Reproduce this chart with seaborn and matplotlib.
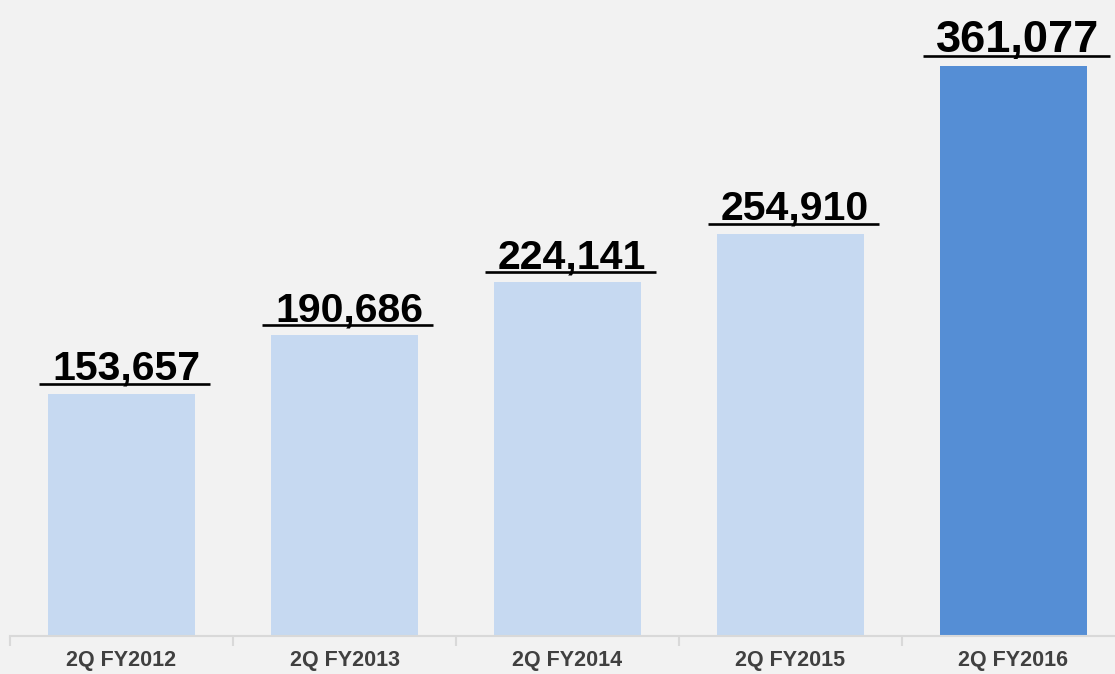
import matplotlib
matplotlib.use("Agg")
import matplotlib.pyplot as plt
import matplotlib.transforms as mtransforms
import seaborn as sns

# data
quarters = ["2Q FY2012", "2Q FY2013", "2Q FY2014", "2Q FY2015", "2Q FY2016"]
values = [153657, 190686, 224141, 254910, 361077]
bar_colors = ["#c6d9f1", "#c6d9f1", "#c6d9f1", "#c6d9f1", "#558ed5"]
label_sizes = [29.5, 29.5, 29.5, 29.5, 32.5]

bg = "#f2f2f2"
sns.set_style("white")
plt.rcParams["font.family"] = ["Liberation Sans", "DejaVu Sans"]

fig = plt.figure(figsize=(11.15, 6.74), dpi=100, facecolor=bg)
ax = fig.add_axes([10 / 1115, 38 / 674, 1.0, 636 / 674])
ax.set_facecolor(bg)

sns.barplot(x=quarters, y=values, hue=quarters, palette=bar_colors,
            width=0.66, legend=False, saturation=1, linewidth=0, ax=ax)

ax.set_xlim(-0.5, 4.5)
ax.set_ylim(0, 403000)

# axis styling: ticks at category boundaries, labels centred
ax.set_xticks([i - 0.5 for i in range(len(quarters) + 1)])
ax.set_xticklabels([])
ax.set_xticks(range(len(quarters)), minor=True)
ax.set_xticklabels(quarters, minor=True, fontsize=15.5, fontweight="bold",
                   color="#404040")
ax.tick_params(axis="x", which="major", bottom=True, length=7, width=1.5,
               color="#d9d9d9", direction="out")
ax.tick_params(axis="x", which="minor", bottom=True, length=0, pad=10)
ax.set_yticks([])
ax.set_xlabel("")
ax.set_ylabel("")
for side in ["left", "right", "top"]:
    ax.spines[side].set_visible(False)
ax.spines["bottom"].set_color("#d9d9d9")
ax.spines["bottom"].set_linewidth(1.5)

# value labels with underline
text_tr = mtransforms.offset_copy(ax.transData, fig=fig, y=14, units="dots")
line_tr = mtransforms.offset_copy(ax.transData, fig=fig, y=10, units="dots")
texts = []
for i, v in enumerate(values):
    t = ax.text(i + 0.02, v, f"{v:,}", transform=text_tr, ha="center",
                va="baseline", fontsize=label_sizes[i], fontweight="bold",
                color="black")
    texts.append(t)

fig.canvas.draw()
renderer = fig.canvas.get_renderer()
inv = ax.transData.inverted()
for i, t in enumerate(texts):
    bb = t.get_window_extent(renderer)
    x0 = inv.transform((bb.x0 - 13, 0))[0]
    x1 = inv.transform((bb.x1 + 10, 0))[0]
    ax.plot([x0, x1], [values[i], values[i]], color="black", lw=1.9,
            transform=line_tr, solid_capstyle="butt", clip_on=False)

fig.savefig("out.png", dpi=100, facecolor=bg)
